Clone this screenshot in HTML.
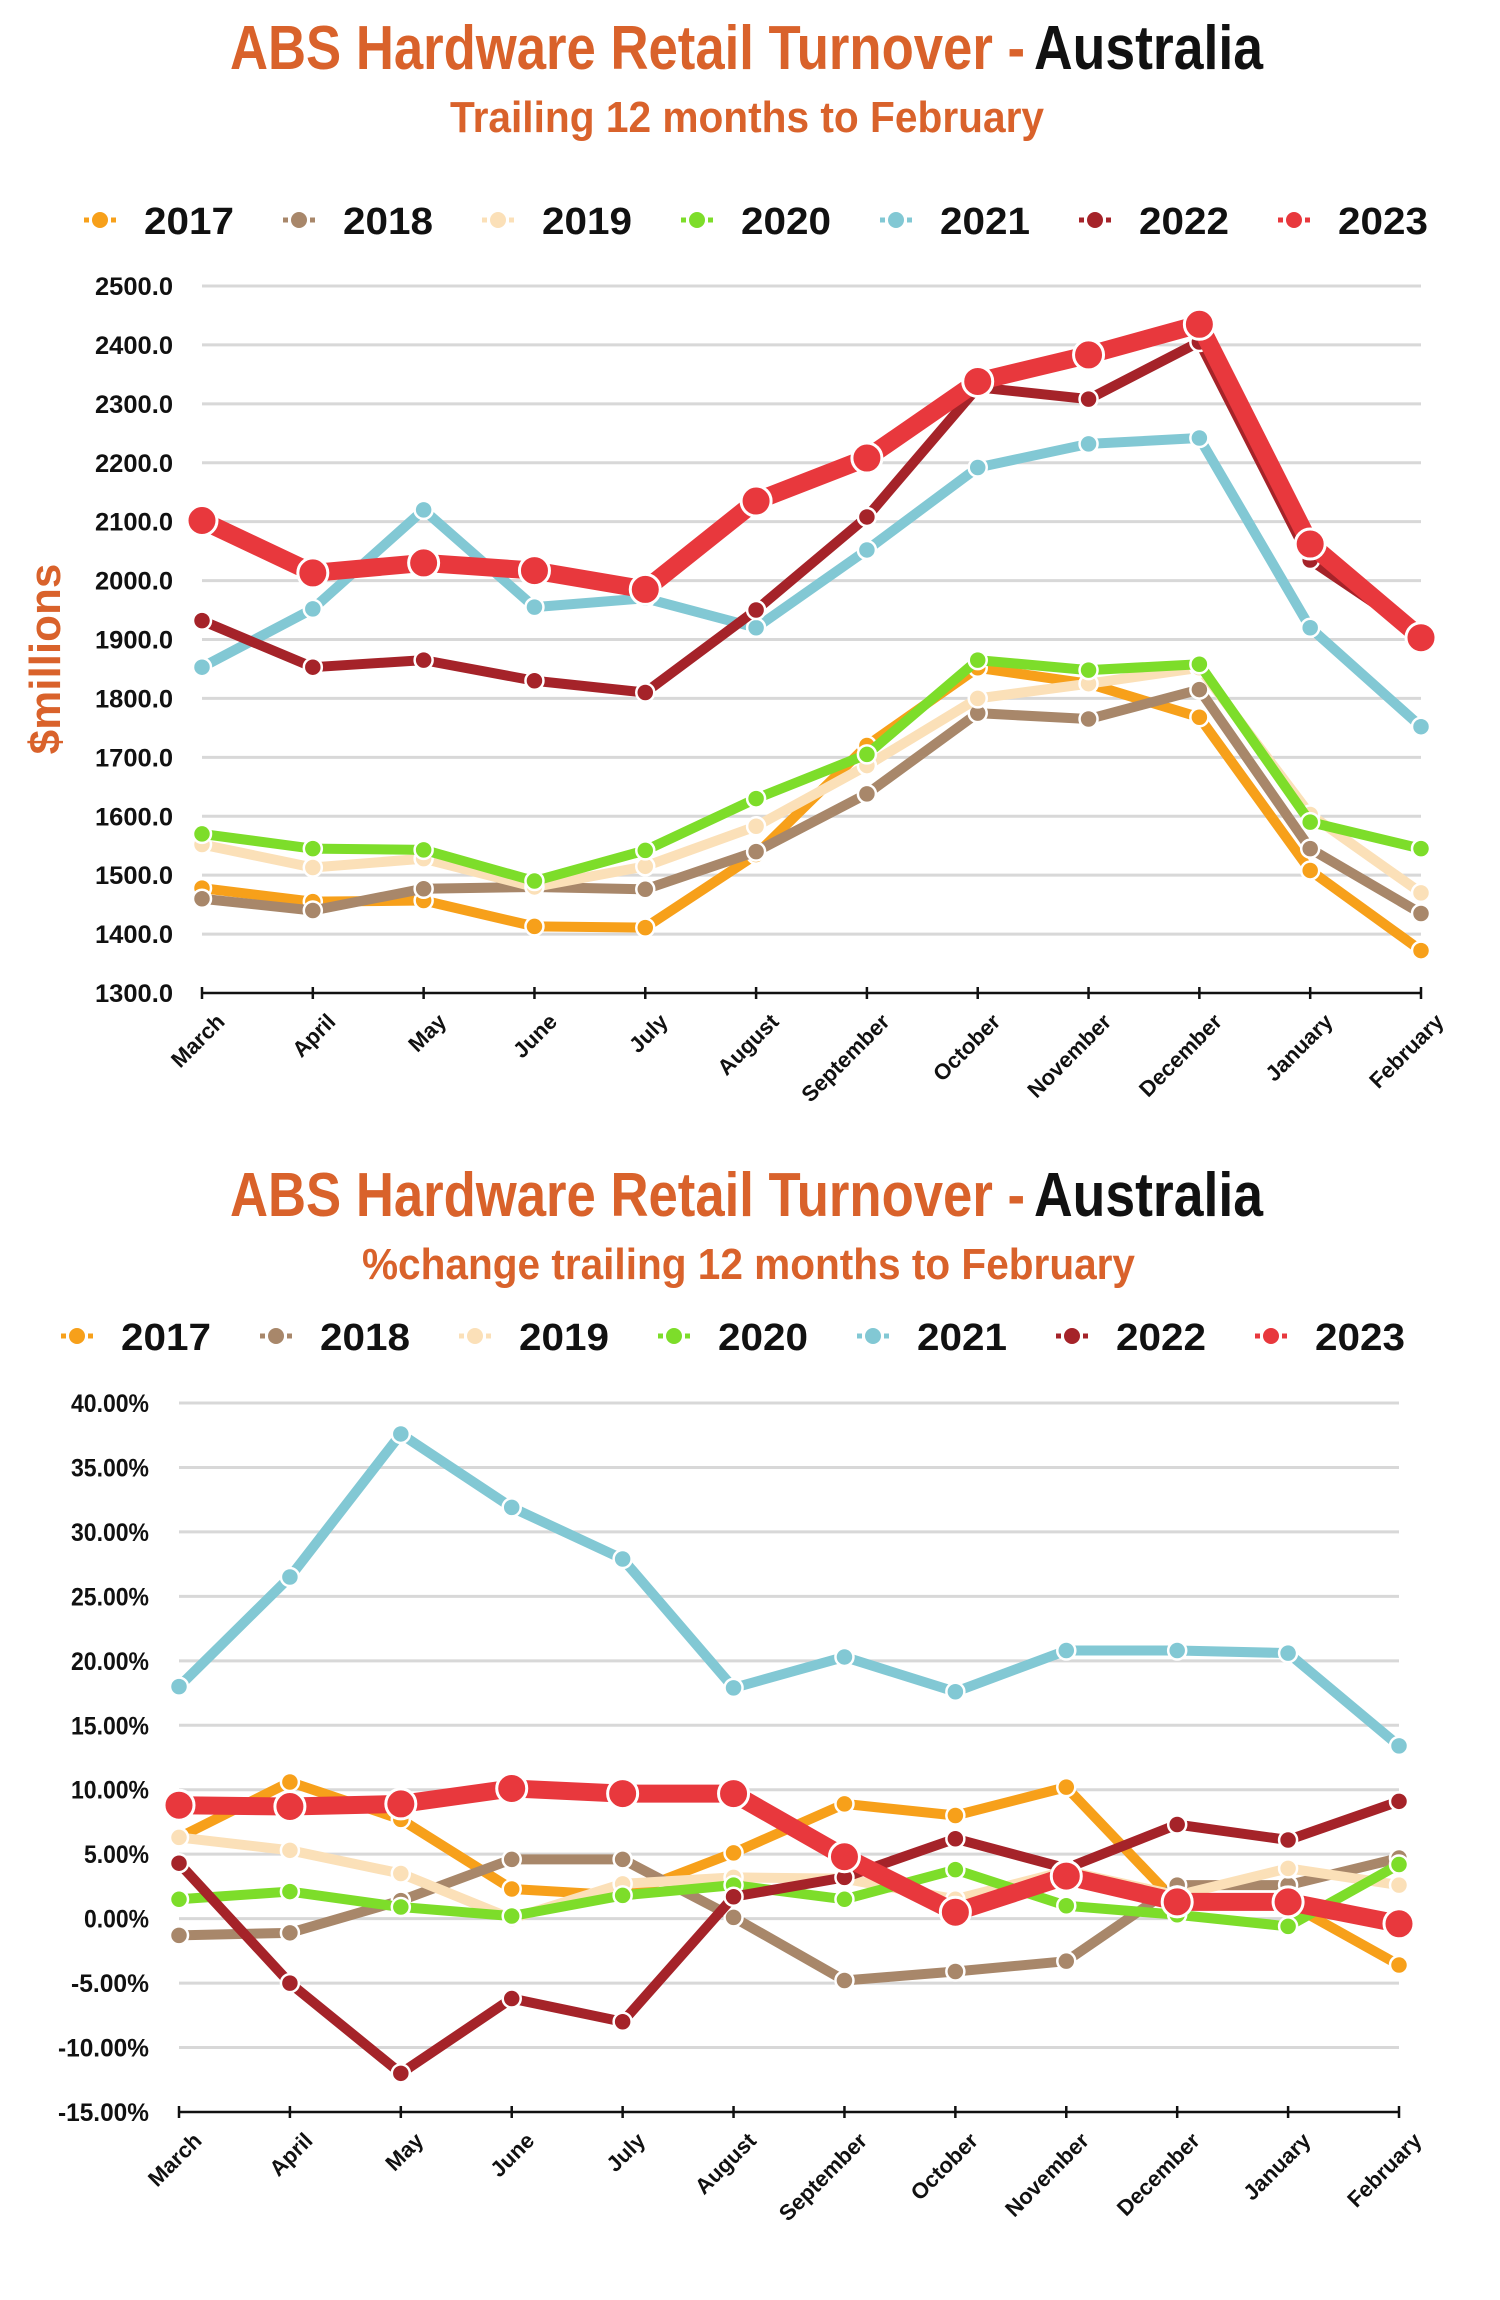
<!DOCTYPE html>
<html><head><meta charset="utf-8"><style>
html,body{margin:0;padding:0;background:#fff;}
svg{display:block;font-family:"Liberation Sans",sans-serif;font-weight:bold;}
</style></head><body>
<svg id="s" width="1500" height="2300" viewBox="0 0 1500 2300"></svg>
<script>
const months = ["March","April","May","June","July","August","September","October","November","December","January","February"];
const years = ["2017","2018","2019","2020","2021","2022","2023"];
const colors = ["#f7a01a","#a8876a","#fbe0b8","#7ddd2a","#82c8d4","#a52329","#e8383d"];
const t1Ticks = ["1300.0","1400.0","1500.0","1600.0","1700.0","1800.0","1900.0","2000.0","2100.0","2200.0","2300.0","2400.0","2500.0"];
const t2Ticks = ["-15.00%","-10.00%","-5.00%","0.00%","5.00%","10.00%","15.00%","20.00%","25.00%","30.00%","35.00%","40.00%"];
const v2017 = [1478,1455,1457,1413,1411,1535,1720,1852,1825,1768,1508,1372];
const v2018 = [1460,1440,1477,1480,1476,1540,1638,1775,1765,1815,1545,1435];
const v2019 = [1552,1513,1528,1480,1515,1583,1686,1800,1825,1852,1603,1470];
const v2020 = [1570,1545,1543,1490,1542,1630,1705,1865,1848,1858,1590,1545];
const v2021 = [1853,1952,2120,1955,1970,1920,2052,2192,2232,2242,1920,1752];
const v2022 = [1932,1853,1865,1830,1810,1950,2108,2328,2308,2405,2035,1908];
const v2023 = [2102,2013,2030,2017,1985,2135,2208,2338,2383,2435,2062,1903];
const p2017 = [6.3,10.6,7.7,2.3,1.8,5.1,8.9,8.0,10.2,1.2,1.2,-3.6];
const p2018 = [-1.3,-1.1,1.4,4.6,4.6,0.1,-4.8,-4.1,-3.3,2.6,2.6,4.7];
const p2019 = [6.3,5.3,3.5,0.0,2.7,3.2,3.1,1.5,3.7,1.8,3.9,2.6];
const p2020 = [1.5,2.1,0.9,0.2,1.8,2.6,1.5,3.8,1.0,0.3,-0.6,4.2];
const p2021 = [18.0,26.5,37.6,31.9,27.9,17.9,20.3,17.6,20.8,20.8,20.6,13.4];
const p2022 = [4.3,-5.0,-12.0,-6.2,-8.0,1.7,3.2,6.2,3.9,7.3,6.1,9.1];
const p2023 = [8.8,8.7,8.9,10.1,9.7,9.7,4.8,0.5,3.3,1.3,1.3,-0.4];

const NS="http://www.w3.org/2000/svg";
const svg=document.getElementById('s');
function el(tag,attrs,parent,txt){const e=document.createElementNS(NS,tag);for(const k in attrs)e.setAttribute(k,attrs[k]);if(txt!==undefined)e.textContent=txt;(parent||svg).appendChild(e);return e;}

function header(y0,sub,subX1,subX2){
  const t=el('text',{x:230,y:y0,'font-size':62,fill:'#d9622b',textLength:795,lengthAdjust:'spacingAndGlyphs'},svg,'ABS Hardware Retail Turnover - ');
  
  
  const a=el('text',{x:1034,y:y0,'font-size':62,fill:'#111',textLength:229,lengthAdjust:'spacingAndGlyphs'},svg,'Australia');
  
  
  const s=el('text',{x:subX1,y:y0+63,'font-size':44,fill:'#d9622b',textLength:subX2-subX1,lengthAdjust:'spacingAndGlyphs'},svg,sub);
  
  
}
function legend(y,x0){
  years.forEach((yr,i)=>{
    const g=el('g',{});
    
    
    const mx=x0+i*199;
    el('line',{x1:mx-16,y1:y,x2:mx+16,y2:y,stroke:colors[i],'stroke-width':5,'stroke-dasharray':'5 22 5'},g);
    el('circle',{cx:mx,cy:y,r:8,fill:colors[i]},g);
    el('text',{x:mx+44,y:y+14,'font-size':38,fill:'#111',textLength:90,lengthAdjust:'spacingAndGlyphs'},g,yr);
  });
}
function chart(cfg){
  const {x0,x1,yTop,yBot,min,max,ticks,series,labelRight,labelW,big}=cfg;
  const sx=i=>x0+(x1-x0)*i/11;
  const sy=v=>yBot-(v-min)/(max-min)*(yBot-yTop);
  const grid=el('g',{});
  
  
  ticks.forEach((t,i)=>{
    const v=min+(max-min)*i/(ticks.length-1);
    const y=sy(v);
    if(i>0) el('line',{x1:x0,x2:x1,y1:y,y2:y,stroke:'#d8d8d8','stroke-width':3},grid);
    const tx=el('text',{x:labelRight,y:y+9,'font-size':25,'text-anchor':'end',fill:'#111',textLength:labelW*t.length/6,lengthAdjust:'spacingAndGlyphs'},svg,t);
    
    
  });
  const ax=el('g',{});
  
  
  el('line',{x1:x0,x2:x1,y1:yBot,y2:yBot,stroke:'#111','stroke-width':2.5},ax);
  months.forEach((m,i)=>{
    const x=sx(i);
    el('line',{x1:x,x2:x,y1:yBot-6,y2:yBot+6,stroke:'#111','stroke-width':2.5},ax);
    const t=el('text',{x:x+24,y:yBot+30,'font-size':22,'text-anchor':'end',fill:'#111',transform:`rotate(-45 ${x+24} ${yBot+30})`},ax,m);
    
    
  });
  series.forEach((vals,si)=>{
    const g=el('g',{});
    
    
    const isBig=si===6;
    const pts=vals.map((v,i)=>sx(i)+','+sy(v)).join(' ');
    el('polyline',{points:pts,fill:'none',stroke:colors[si],'stroke-width':isBig?big:10,'stroke-linejoin':'round','stroke-linecap':'round'},g);
    vals.forEach((v,i)=>{
      const c=el('circle',{cx:sx(i),cy:sy(v),r:isBig?15:9,fill:colors[si],stroke:'#fff','stroke-width':isBig?3:2.5},g);
      
      
    });
  });
}
header(69,'Trailing 12 months to February',450,1044);
legend(220,100);
const yl=el('text',{x:0,y:0,'font-size':44,fill:'#d9622b','text-anchor':'middle',transform:'translate(60 659) rotate(-90)'},svg,'$millions');


chart({x0:202,x1:1421,yTop:286,yBot:993,min:1300,max:2500,ticks:t1Ticks,series:[v2017,v2018,v2019,v2020,v2021,v2022,v2023],labelRight:173,labelW:78,big:18});

header(1216,'%change trailing 12 months to February',362,1135);
legend(1336,77);
chart({x0:179,x1:1399,yTop:1403,yBot:2112,min:-15,max:40,ticks:t2Ticks,series:[p2017,p2018,p2019,p2020,p2021,p2022,p2023],labelRight:149,labelW:78,big:18});
</script>
</body></html>
